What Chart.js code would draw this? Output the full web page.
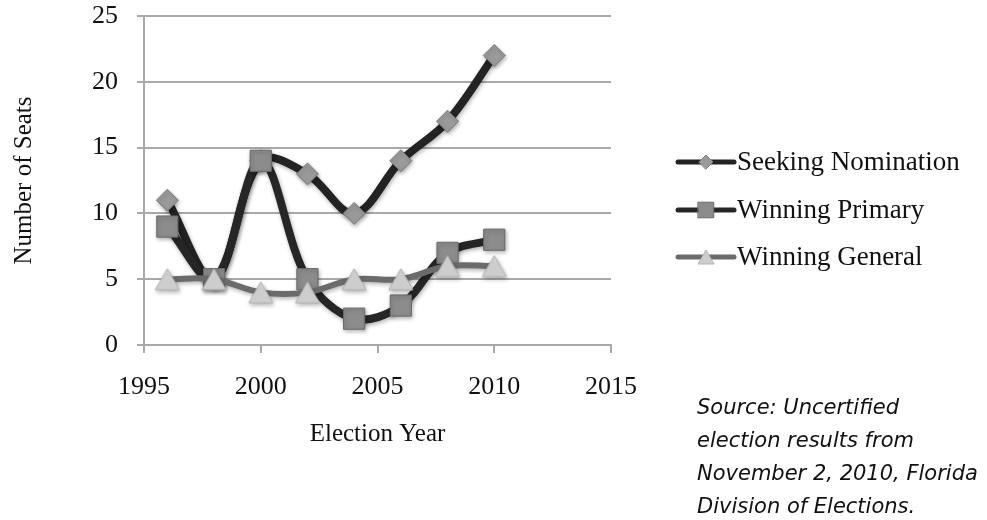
<!DOCTYPE html>
<html>
<head>
<meta charset="utf-8">
<script src="https://cdn.jsdelivr.net/npm/chart.js@4/dist/chart.umd.min.js"></script>
<style>
  html, body { margin: 0; padding: 0; background: #fff; }
  #wrap { position: relative; width: 987px; height: 520px; }
  #source {
    position: absolute; left: 697px; top: 391px;
    font-family: "DejaVu Sans", Verdana, sans-serif; font-style: italic;
    font-size: 21px; line-height: 33px; color: #111; white-space: nowrap;
  }
</style>
</head>
<body>
<div id="wrap">
  <canvas id="chart" width="987" height="520"></canvas>
  <div id="source">Source: Uncertified<br>election results from<br>November 2, 2010, Florida<br>Division of Elections.</div>
</div>
<script>
const years = [1996, 1998, 2000, 2002, 2004, 2006, 2008, 2010];
const seekingNomination = [11, 5, 14, 13, 10, 14, 17, 22];
const winningPrimary = [9, 5, 14, 5, 2, 3, 7, 8];
const winningGeneral = [5, 5, 4, 4, 5, 5, 6, 6];
const seriesNames = ["Seeking Nomination", "Winning Primary", "Winning General"];
const xTicks = [1995, 2000, 2005, 2010, 2015];
const yTicks = [0, 5, 10, 15, 20, 25];

const serif = "'Liberation Serif', 'Times New Roman', serif";
const gridGray = "#a9a9a9";

function points(vals) {
  return years.map((y, i) => ({ x: y, y: vals[i] }));
}

// triangle marker centred on its box (like Excel), not on its centroid
function triangleMarker(w, h, fill, stroke) {
  const c = document.createElement("canvas");
  c.width = w + 2;
  c.height = h + 2;
  const g = c.getContext("2d");
  g.beginPath();
  g.moveTo(c.width / 2, 1);
  g.lineTo(w + 1, h + 1);
  g.lineTo(1, h + 1);
  g.closePath();
  g.fillStyle = fill;
  g.fill();
  g.strokeStyle = stroke;
  g.lineWidth = 1;
  g.stroke();
  return c;
}
const triBig = triangleMarker(24, 21, "#cdcdcd", "#b3b3b3");
const triSmall = triangleMarker(16, 14, "#cdcdcd", "#b3b3b3");

// marker shadows, roughly like the original
const shadowPlugin = {
  id: "shadow",
  beforeDatasetDraw(chart) {
    const ctx = chart.ctx;
    ctx.save();
    ctx.shadowColor = "rgba(0,0,0,0.3)";
    ctx.shadowBlur = 4;
    ctx.shadowOffsetX = 1;
    ctx.shadowOffsetY = 2;
  },
  afterDatasetDraw(chart) {
    chart.ctx.restore();
  },
};

// legend on the right: line + marker + label
const sideLegend = {
  id: "sideLegend",
  afterDraw(chart) {
    const ctx = chart.ctx;
    const rows = [162, 210, 257];
    const x0 = 678, x1 = 734;
    const markers = [["rectRot", 7], ["rect", 11], [triSmall, 9]];
    chart.data.datasets.forEach((ds, i) => {
      const y = rows[i];
      ctx.save();
      ctx.strokeStyle = ds.borderColor;
      ctx.lineWidth = 5;
      ctx.lineCap = "round";
      ctx.beginPath();
      ctx.moveTo(x0, y);
      ctx.lineTo(x1, y);
      ctx.stroke();
      ctx.fillStyle = ds.pointBackgroundColor;
      ctx.strokeStyle = ds.pointBorderColor;
      ctx.lineWidth = 1;
      Chart.helpers.drawPoint(ctx, {
        pointStyle: markers[i][0],
        radius: markers[i][1],
        borderWidth: 1,
        rotation: 0,
      }, (x0 + x1) / 2, y);
      ctx.fillStyle = "#111";
      ctx.font = "27px " + serif;
      ctx.textBaseline = "middle";
      ctx.textAlign = "left";
      ctx.fillText(ds.label, x1 + 3, y + 1);
      ctx.restore();
    });
  },
};

new Chart(document.getElementById("chart"), {
  type: "line",
  data: {
    datasets: [
      {
        label: seriesNames[0],
        data: points(seekingNomination),
        borderColor: "#232323",
        borderWidth: 8,
        pointStyle: "rectRot",
        pointRadius: 11,
        pointBackgroundColor: "#9a9a9a",
        pointBorderColor: "#7a7a7a",
        pointBorderWidth: 1,
        tension: 0.35,
        order: 3,
      },
      {
        label: seriesNames[1],
        data: points(winningPrimary),
        borderColor: "#262626",
        borderWidth: 8,
        pointStyle: "rect",
        pointRadius: 15,
        pointBackgroundColor: "#8c8c8c",
        pointBorderColor: "#6a6a6a",
        pointBorderWidth: 1,
        tension: 0.35,
        order: 2,
      },
      {
        label: seriesNames[2],
        data: points(winningGeneral),
        borderColor: "#6b6b6b",
        borderWidth: 6,
        pointStyle: triBig,
        pointRadius: 13,
        pointBackgroundColor: "#cdcdcd",
        pointBorderColor: "#b3b3b3",
        pointBorderWidth: 1,
        tension: 0.35,
        order: 1,
      },
    ],
  },
  options: {
    responsive: false,
    animation: false,
    layout: { padding: { left: 0, top: 13, right: 376, bottom: 71 } },
    plugins: { legend: { display: false }, tooltip: { enabled: false } },
    scales: {
      x: {
        type: "linear",
        min: xTicks[0],
        max: xTicks[xTicks.length - 1],
        afterBuildTicks: (s) => { s.ticks = xTicks.map((v) => ({ value: v })); },
        afterFit: (s) => { s.height = 104; s.paddingLeft = 0; s.paddingRight = 0; },
        grid: { drawOnChartArea: false, tickLength: 8, color: gridGray, lineWidth: 2 },
        border: { color: gridGray, width: 2 },
        ticks: {
          padding: 19,
          color: "#111",
          font: { family: serif, size: 26 },
          callback: (v) => String(v),
        },
        title: {
          display: true,
          text: "Election Year",
          color: "#111",
          font: { family: serif, size: 25 },
          padding: 0,
        },
      },
      y: {
        min: yTicks[0],
        max: yTicks[yTicks.length - 1],
        afterBuildTicks: (s) => { s.ticks = yTicks.map((v) => ({ value: v })); },
        afterFit: (s) => { s.width = 144; s.paddingTop = 0; s.paddingBottom = 0; },
        grid: { tickLength: 7, color: gridGray, lineWidth: 2 },
        border: { color: gridGray, width: 2 },
        ticks: {
          padding: 19,
          color: "#111",
          font: { family: serif, size: 26 },
        },
        title: {
          display: true,
          text: "Number of Seats",
          color: "#111",
          font: { family: serif, size: 25 },
          padding: { top: 9 },
        },
      },
    },
  },
  plugins: [shadowPlugin, sideLegend],
});
</script>
</body>
</html>
